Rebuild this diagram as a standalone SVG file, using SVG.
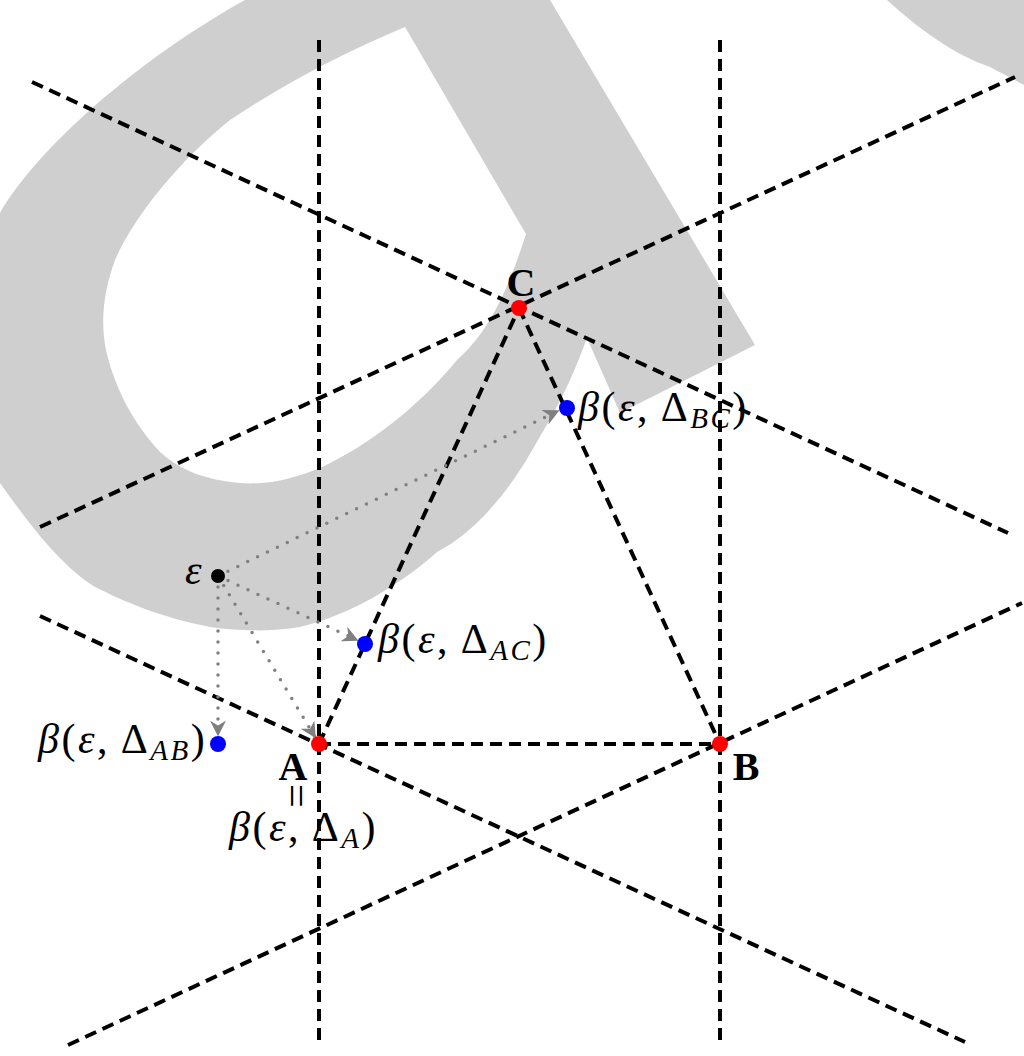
<svg xmlns="http://www.w3.org/2000/svg" width="1024" height="1056" viewBox="0 0 1024 1056">
<style>
.bg{fill:#cfcfcf;fill-rule:evenodd}
.dl{stroke:#000;stroke-width:4;stroke-dasharray:12 7;fill:none}
.dot{stroke:#808080;stroke-width:3.5;stroke-dasharray:0 11;stroke-linecap:round;fill:none}
.lbl{font-family:"Liberation Serif","DejaVu Serif",serif;font-size:42px;letter-spacing:2.5px;fill:#000}
.bold{font-weight:bold;font-size:40px;letter-spacing:0}
.it{font-style:italic}
.sub{font-size:29px;font-style:italic}
</style>
<defs>
<marker id="ah" viewBox="0 0 10 10" refX="9" refY="5" markerWidth="16" markerHeight="16" markerUnits="userSpaceOnUse" orient="auto">
<path d="M0,0 L10,5 L0,10 L3,5 Z" fill="#808080"/>
</marker>
</defs>
<rect width="1024" height="1056" fill="#fff"/>
<g id="background">
<path class="bg" d="M245,0 L550,0 L755,345 L620,413 L587,338 C575,370 565,395 538,440 C505,500 470,535 437,552 C400,585 350,615 300,627 C270,632 240,631 210,627 C160,617 125,602 95,587 C60,565 30,525 0,483 L0,213 C30,160 120,70 245,0 Z M405,27 L526,234 C505,300 485,335 457,360 C420,405 370,445 320,468 C290,480 265,485 240,483 C205,480 180,470 160,452 C135,425 115,390 106,350 C100,320 104,290 115,260 C135,215 180,160 230,120 C290,80 350,50 405,27 Z"/>
<path class="bg" d="M887,0 C920,30 955,55 990,67 C1005,75 1015,80 1024,85 L1024,0 Z"/>
</g>
<g id="connectors">
<line class="dl" x1="319" y1="40" x2="319" y2="1046"/>
<line class="dl" x1="720" y1="40" x2="720" y2="1046"/>
<line class="dl" x1="32" y1="82" x2="1008" y2="533"/>
<line class="dl" x1="40" y1="527" x2="1015" y2="77"/>
<line class="dl" x1="40" y1="616" x2="965" y2="1042"/>
<line class="dl" x1="68" y1="1045" x2="1022" y2="603"/>
<line class="dl" x1="319" y1="744" x2="720" y2="744"/>
<line class="dl" x1="319" y1="744" x2="519" y2="308"/>
<line class="dl" x1="519" y1="308" x2="720" y2="744"/>
<line class="dot" x1="218" y1="576" x2="558" y2="411" marker-end="url(#ah)"/>
<line class="dot" x1="218" y1="576" x2="357" y2="640" marker-end="url(#ah)"/>
<line class="dot" x1="218" y1="576" x2="315" y2="737" marker-end="url(#ah)"/>
<line class="dot" x1="218" y1="576" x2="218" y2="735" marker-end="url(#ah)"/>
</g>
<g id="node-C">
<circle cx="519" cy="308" r="8" fill="#ff0000"/>
<text class="lbl bold" x="521" y="296" text-anchor="middle">C</text>
</g>
<g id="node-A">
<circle cx="319" cy="744" r="8" fill="#ff0000"/>
<text class="lbl bold" x="293" y="780" text-anchor="middle">A</text>
<text class="lbl" transform="translate(283,797) rotate(90)" text-anchor="middle" font-size="24" letter-spacing="0">=</text>
<text class="lbl" x="229" y="841"><tspan class="it">β</tspan>(<tspan class="it">ε</tspan>, Δ<tspan class="sub" dy="7">A</tspan><tspan dy="-7">)</tspan></text>
</g>
<g id="node-B">
<circle cx="720" cy="744" r="8" fill="#ff0000"/>
<text class="lbl bold" x="746" y="780" text-anchor="middle">B</text>
</g>
<g id="node-eps">
<circle cx="218" cy="576" r="7" fill="#000"/>
<text class="lbl it" x="185" y="584">ε</text>
</g>
<g id="node-bBC">
<circle cx="567" cy="408" r="8" fill="#0000ff"/>
<text class="lbl" x="578" y="421"><tspan class="it">β</tspan>(<tspan class="it">ε</tspan>, Δ<tspan class="sub" dy="7">BC</tspan><tspan dy="-7">)</tspan></text>
</g>
<g id="node-bAC">
<circle cx="365" cy="644" r="8" fill="#0000ff"/>
<text class="lbl" x="378" y="653"><tspan class="it">β</tspan>(<tspan class="it">ε</tspan>, Δ<tspan class="sub" dy="7">AC</tspan><tspan dy="-7">)</tspan></text>
</g>
<g id="node-bAB">
<circle cx="218" cy="744" r="8" fill="#0000ff"/>
<text class="lbl" x="38" y="753"><tspan class="it">β</tspan>(<tspan class="it">ε</tspan>, Δ<tspan class="sub" dy="7">AB</tspan><tspan dy="-7">)</tspan></text>
</g>
</svg>
